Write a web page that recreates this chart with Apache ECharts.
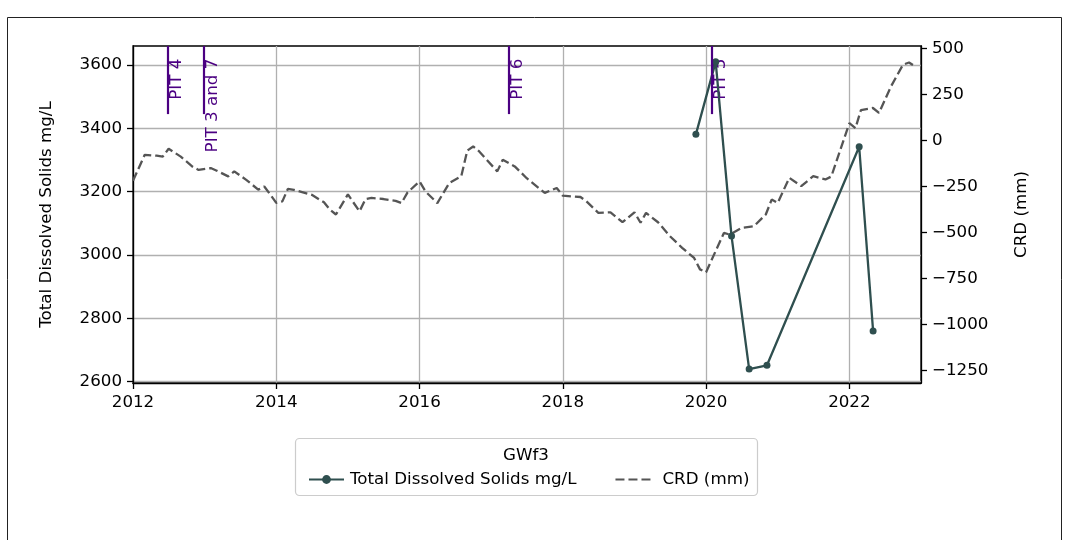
<!DOCTYPE html>
<html><head><meta charset="utf-8">
<script src="https://cdn.jsdelivr.net/npm/echarts@6/dist/echarts.min.js"></script>
<style>html,body{margin:0;padding:0;background:#fff}#c{width:1065px;height:540px}</style>
</head><body><div id="c"></div>
<script>
// ---- data ----
const tdsDates = ['2019-11-10','2020-02-19','2020-05-10','2020-08-08','2020-11-07','2022-02-20','2022-05-02'];
const tdsValues = [3381, 3610, 3060, 2640, 2652, 3342, 2760];

const crdDates = [
  '2012-01','2012-03','2012-05','2012-06','2012-07','2012-09','2012-11','2012-12',
  '2013-02','2013-03','2013-05','2013-06','2013-08','2013-10','2013-11','2013-12',
  '2014-01','2014-02','2014-03','2014-04','2014-07','2014-09','2014-10','2014-11',
  '2015-01','2015-03','2015-04','2015-05','2015-07','2015-09','2015-10','2015-11',
  '2016-01','2016-02','2016-04','2016-06','2016-08','2016-09','2016-10','2016-11',
  '2017-02','2017-03','2017-05','2017-07','2017-10','2017-12',
  '2018-01','2018-04','2018-05','2018-07','2018-09','2018-11',
  '2019-01','2019-02','2019-03','2019-05','2019-07','2019-09','2019-11','2019-12',
  '2020-01','2020-04','2020-05','2020-07','2020-09','2020-11','2020-12',
  '2021-01','2021-03','2021-05','2021-07','2021-09','2021-10',
  '2022-01','2022-02','2022-03','2022-05','2022-06','2022-08','2022-10','2022-11','2022-12'
];
const crdValues = [
  -219,-78,-83,-88,-45,-88,-143,-160,
  -150,-163,-195,-168,-214,-267,-250,-293,
  -339,-331,-263,-268,-295,-336,-375,-402,
  -293,-385,-318,-312,-318,-328,-340,-282,
  -223,-278,-340,-231,-195,-55,-33,-60,
  -168,-105,-141,-205,-285,-258,
  -300,-307,-330,-393,-390,-444,
  -390,-447,-393,-444,-520,-583,-638,-700,
  -715,-502,-511,-475,-466,-402,-321,
  -339,-203,-248,-194,-212,-196,
  94,67,165,176,149,293,411,423,402
];

const pitDates = ['2012-06-27','2012-12-28','2017-03-31','2020-01-29'];
const pitLabels = ['PIT 4','PIT 3 and 7','PIT 6','PIT 5'];

const xTicks = [2012, 2014, 2016, 2018, 2020, 2022];
const leftTicks = [2600, 2800, 3000, 3200, 3400, 3600];
const rightTicks = [-1250, -1000, -750, -500, -250, 0, 250, 500];

const legendTitle = 'GWf3';
const tdsName = 'Total Dissolved Solids mg/L';
const crdName = 'CRD (mm)';

// ---- helpers ----
function decYear(s) {
  const p = s.split('-').map(Number);
  const y = p[0], m = p[1] || 1, d = p[2] || 1;
  const a = Date.UTC(y, 0, 1), b = Date.UTC(y + 1, 0, 1);
  return y + (Date.UTC(y, m - 1, d) - a) / (b - a);
}

const FONT = 'DejaVu Sans';
const FS = 16.7;
const BLACK = '#000';
const PIT_COLOR = '#4B0082';

const chart = echarts.init(document.getElementById('c'), null, { renderer: 'canvas' });

const axisLine = { show: true, onZero: false, lineStyle: { color: BLACK, width: 1.3 } };
const labelBase = { fontSize: FS, color: BLACK, fontFamily: FONT, margin: 11 };
const nameStyle = { fontSize: FS, color: BLACK, fontFamily: FONT };

const option = {
  animation: false,
  textStyle: { fontFamily: FONT },
  grid: { left: 133, right: 144, top: 46, bottom: 157, show: true, borderColor: BLACK, borderWidth: 1.3, backgroundColor: 'transparent' },
  xAxis: {
    type: 'value', min: 2012, max: 2023,
    axisLine: axisLine,
    axisTick: { show: true, length: 6, lineStyle: { color: BLACK, width: 1.3 }, customValues: xTicks },
    axisLabel: Object.assign({}, labelBase, { customValues: xTicks, formatter: v => String(v) }),
    splitLine: { show: true, lineStyle: { color: '#b0b0b0', width: 1.3 } }
  },
  yAxis: [
    {
      type: 'value', min: 2596, max: 3660, position: 'left',
      axisLine: axisLine,
      axisTick: { show: true, length: 6, lineStyle: { color: BLACK, width: 1.3 }, customValues: leftTicks },
      axisLabel: Object.assign({}, labelBase, { customValues: leftTicks, formatter: v => String(v) }),
      splitLine: { show: true, lineStyle: { color: '#b0b0b0', width: 1.3 } },
      name: tdsName, nameLocation: 'middle', nameRotate: 90, nameGap: 78,
      nameTextStyle: nameStyle
    },
    {
      type: 'value', min: -1316.6, max: 512.5, position: 'right',
      axisLine: axisLine,
      axisTick: { show: true, length: 6, lineStyle: { color: BLACK, width: 1.3 }, customValues: rightTicks },
      axisLabel: Object.assign({}, labelBase, { customValues: rightTicks, formatter: v => String(v).replace('-', '\u2212') }),
      splitLine: { show: false },
      name: crdName, nameLocation: 'middle', nameRotate: 90, nameGap: 92,
      nameTextStyle: nameStyle
    }
  ],
  legend: {
    data: [
      { name: tdsName },
      { name: crdName, itemStyle: { opacity: 0 }, textStyle: { fontSize: FS, color: BLACK, fontFamily: FONT, padding: [0, 0, 0, 7] } }
    ],
    left: 303, top: 466,
    itemWidth: 35, itemHeight: 11, itemGap: 38,
    textStyle: { fontSize: FS, color: BLACK, fontFamily: FONT, padding: [0, 0, 0, 1] },
    selectedMode: false
  },
  series: [
    {
      type: 'line', name: tdsName, yAxisIndex: 0, z: 4,
      data: tdsDates.map((d, i) => [decYear(d), tdsValues[i]]),
      symbol: 'circle', symbolSize: 7, showSymbol: true,
      lineStyle: { color: '#2F4F4F', width: 2.3 },
      itemStyle: { color: '#2F4F4F' }
    },
    {
      type: 'line', name: crdName, yAxisIndex: 1, z: 3,
      data: crdDates.map((d, i) => [decYear(d), crdValues[i]]),
      symbol: 'none', showSymbol: false,
      lineStyle: { color: '#555555', width: 2.3, type: [9, 4] },
      itemStyle: { color: '#555555' }
    },
    {
      type: 'line', name: 'PIT', yAxisIndex: 0, z: 2, data: [],
      markLine: {
        silent: true, symbol: 'none', animation: false,
        label: { show: false },
        lineStyle: { color: PIT_COLOR, width: 2.2, type: 'solid' },
        data: pitDates.map(d => [{ coord: [decYear(d), 3445] }, { coord: [decYear(d), 3660] }])
      }
    }
  ]
};
chart.setOption(option);

// labels for PIT lines, frame and legend box
const graphics = [];
graphics.push({
  type: 'rect', z: -10, silent: true,
  shape: { x: 7.5, y: 17.5, width: 1054, height: 600 },
  style: { fill: 'none', stroke: '#222', lineWidth: 1 }
});
graphics.push({
  type: 'rect', z: -5, silent: true,
  shape: { x: 295.5, y: 438.5, width: 462, height: 57, r: 4 },
  style: { fill: '#fff', stroke: '#cccccc', lineWidth: 1.2 }
});
graphics.push({
  type: 'text', silent: true, x: 526, y: 456,
  style: { text: legendTitle, fill: BLACK, font: FS + 'px ' + FONT, align: 'center', verticalAlign: 'middle', textAlign: 'center', textVerticalAlign: 'middle' }
});
pitDates.forEach((d, i) => {
  const p = chart.convertToPixel({ xAxisIndex: 0, yAxisIndex: 0 }, [decYear(d), 3620]);
  graphics.push({
    type: 'text', silent: true, x: p[0] + 0.5, y: p[1], rotation: Math.PI / 2,
    style: { text: pitLabels[i], fill: PIT_COLOR, font: FS + 'px ' + FONT, align: 'right', verticalAlign: 'top', textAlign: 'right', textVerticalAlign: 'top' }
  });
});
chart.setOption({ graphic: graphics });
</script>
</body></html>
